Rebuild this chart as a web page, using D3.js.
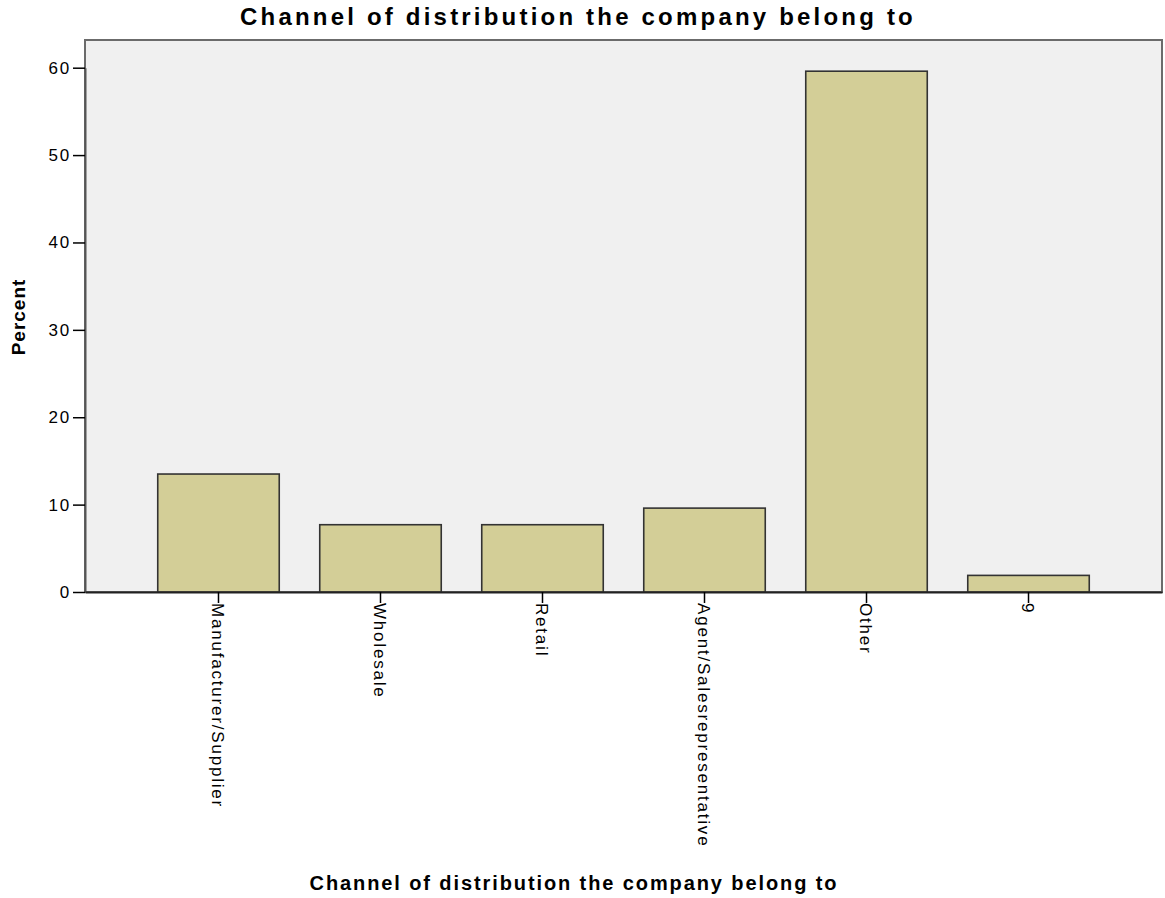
<!DOCTYPE html>
<html><head><meta charset="utf-8">
<script src="https://cdn.jsdelivr.net/npm/d3@7"></script>
<style>body{margin:0;background:#fff}svg{display:block}text{font-family:"Liberation Sans",Arial,sans-serif}</style>
</head><body>
<svg id="c" width="1165" height="898"></svg>
<script>
const categories = ["Manufacturer/Supplier","Wholesale","Retail","Agent/Salesrepresentative","Other","9"];
const percents = [13.5, 7.7, 7.7, 9.6, 59.6, 1.9];
const yTicks = [0,10,20,30,40,50,60];
const titleText = "Channel of distribution the company belong to";
const xTitle = "Channel of distribution the company belong to";
const yTitle = "Percent";

const svg = d3.select("#c");
const L=85, R=1162, T=40, B=592;
const x = d3.scaleBand().domain(categories).range([L,R]).paddingInner(0.25).paddingOuter(0.449);
const y = d3.scaleLinear().domain([0,60]).range([B,67.7]);

svg.append("rect").attr("x",L).attr("y",T).attr("width",R-L).attr("height",B-T)
  .attr("fill","#f0f0f0").attr("stroke","#6b6b6b").attr("stroke-width",2);

svg.selectAll("rect.bar").data(percents).join("rect").attr("class","bar")
  .attr("x",(d,i)=>x(categories[i])).attr("width",x.bandwidth())
  .attr("y",d=>y(d)).attr("height",d=>y(0)-y(d))
  .attr("fill","#d3ce97").attr("stroke","#333").attr("stroke-width",1.6);

const ya = svg.append("g").attr("transform",`translate(${L},0)`)
  .call(d3.axisLeft(y).tickValues(yTicks).tickSize(12).tickSizeOuter(0).tickPadding(2));
ya.select(".domain").attr("stroke","#555").attr("stroke-width",2);
ya.selectAll(".tick line").attr("stroke","#000").attr("stroke-width",1.5);
ya.selectAll("text").attr("font-size",17).attr("fill","#000").attr("letter-spacing","1.8px")
  .style("font-family","Liberation Sans, Arial");

const xa = svg.append("g").attr("transform",`translate(0,${B})`)
  .call(d3.axisBottom(x).tickSize(11).tickSizeOuter(0).tickPadding(2));
xa.select(".domain").attr("stroke","#222").attr("stroke-width",2);
xa.selectAll(".tick line").attr("stroke","#000").attr("stroke-width",1.5);
xa.selectAll("text").attr("font-size",17).attr("fill","#000").attr("letter-spacing","1.8px")
  .style("font-family","Liberation Sans, Arial")
  .attr("transform","rotate(90)").attr("text-anchor","start").attr("dy","0.36em").attr("x",11).attr("y",0);

svg.append("text").attr("x",578).attr("y",25).attr("text-anchor","middle")
  .attr("font-size",24).attr("font-weight","bold").attr("letter-spacing","3.2px").text(titleText);
svg.append("text").attr("x",574).attr("y",890).attr("text-anchor","middle")
  .attr("font-size",20).attr("font-weight","bold").attr("letter-spacing","1.9px").text(xTitle);
svg.append("text").attr("transform",`translate(25,${(T+B)/2+1}) rotate(-90)`).attr("text-anchor","middle")
  .attr("font-size",19).attr("font-weight","bold").attr("letter-spacing","1px").text(yTitle);
</script>
</body></html>
